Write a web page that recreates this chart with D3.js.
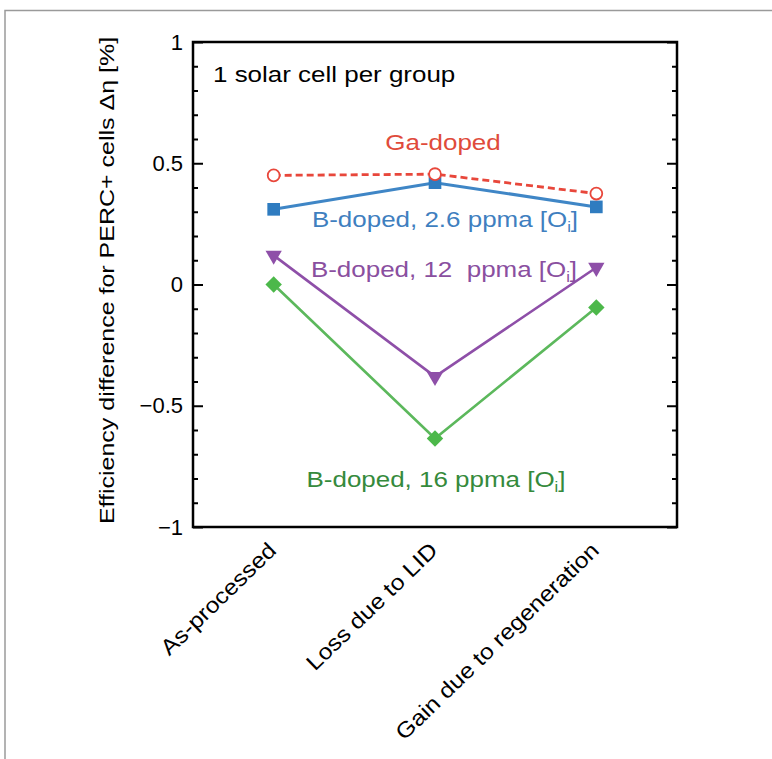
<!DOCTYPE html>
<html>
<head>
<meta charset="utf-8">
<script src="https://cdn.jsdelivr.net/npm/d3@7"></script>
<style>
  body { margin: 0; background: #fff; }
  svg { font-family: "Liberation Sans", Arial, sans-serif; }
</style>
</head>
<body>
<svg id="chart"></svg>
<script>
// efficiency difference per process step, one cell per group
var categories = ["As-processed", "Loss due to LID", "Gain due to regeneration"]
var gaDoped = [0.45, 0.455, 0.375]
var bDoped26 = [0.31, 0.42, 0.32]
var bDoped12 = [0.12, -0.38, 0.07]
var bDoped16 = [0, -0.635, -0.095]
var majorTicks = [-1, -0.5, 0, 0.5, 1]
var minorTicks = [-0.9, -0.8, -0.7, -0.6, -0.4, -0.3, -0.2, -0.1, 0.1, 0.2, 0.3, 0.4, 0.6, 0.7, 0.8, 0.9]

var dimensions = {
    width: 772,
    height: 759,
    margin: { top: 42, bottom: 232, left: 193, right: 95 }
}

var svg = d3.select('#chart')
    .attr("width", dimensions.width)
    .attr("height", dimensions.height)

// grey frame of the cropped figure
svg.append("path")
    .attr("d", "M5,759 V10.5 H772")
    .attr("fill", "none")
    .attr("stroke", "#9a9a9a")
    .attr("stroke-width", 1.5)

var x0 = dimensions.margin.left
var x1 = dimensions.width - dimensions.margin.right
var y0 = dimensions.height - dimensions.margin.bottom
var y1 = dimensions.margin.top

var xScale = d3.scalePoint()
    .domain(categories)
    .range([x0, x1])
    .padding(0.5)

var yScale = d3.scaleLinear()
    .domain([-1, 1])
    .range([y0, y1])

// axes: ticks point inward on both sides
function tickAxis(axis, values, size) {
    return axis.scale(yScale).tickValues(values).tickSize(-size).tickSizeOuter(0)
}
var left = svg.append("g").attr("transform", `translate(${x0},0)`)
left.call(tickAxis(d3.axisLeft(), minorTicks, 5).tickFormat(""))
left.append("g").call(tickAxis(d3.axisLeft(), majorTicks, 10).tickPadding(10).tickFormat(d => d3.format("")(d).replace("-", "\u2212")))
var right = svg.append("g").attr("transform", `translate(${x1},0)`)
right.call(tickAxis(d3.axisRight(), minorTicks, 5).tickFormat(""))
right.append("g").call(tickAxis(d3.axisRight(), majorTicks, 10).tickFormat(""))

svg.selectAll(".domain").remove()
svg.selectAll(".tick line").attr("stroke", "#000").attr("stroke-width", 2)
svg.selectAll(".tick text")
    .attr("fill", "#000")
    .style("font-size", "22px")
    .style("font-family", "'Liberation Sans', Arial, sans-serif")

svg.append("rect")
    .attr("x", x0).attr("y", y1)
    .attr("width", x1 - x0).attr("height", y0 - y1)
    .attr("fill", "none")
    .attr("stroke", "#000")
    .attr("stroke-width", 2.5)

// category labels, rotated
svg.append("g").selectAll("text")
    .data(categories)
    .enter()
    .append("text")
    .attr("transform", d => `translate(${xScale(d) + 4},552) rotate(-44) scale(1.12,1)`)
    .attr("text-anchor", "end")
    .style("font-size", "22px")
    .text(d => d)

// y title
svg.append("text")
    .attr("transform", `translate(114,${(y0 + y1) / 2 - 4}) rotate(-90) scale(1.19,1)`)
    .attr("text-anchor", "middle")
    .style("font-size", "21px")
    .text("Efficiency difference for PERC+ cells \u0394\u03b7 [%]")

var line = d3.line()
    .x((d, i) => xScale(categories[i]))
    .y(d => yScale(d))

var series = [
    { name: "B16", values: bDoped16, line: "#5cb85c", fill: "#4cb84a", width: 2.6, dash: null, symbol: d3.symbolSquare, size: 135, rot: 45, open: false },
    { name: "B12", values: bDoped12, line: "#8e4fa8", fill: "#8e4fa8", width: 2.6, dash: null, symbol: d3.symbolTriangle, size: 115, rot: 180, open: false },
    { name: "B26", values: bDoped26, line: "#3f86c6", fill: "#2f7cc0", width: 3, dash: null, symbol: d3.symbolSquare, size: 160, rot: 0, open: false },
    { name: "Ga", values: gaDoped, line: "#e8473b", fill: "#e8473b", width: 2.8, dash: "7,4", symbol: d3.symbolCircle, size: 110, rot: 0, open: true }
]

series.forEach(function (s) {
    svg.append("path")
        .datum(s.values)
        .attr("d", line)
        .attr("fill", "none")
        .attr("stroke", s.line)
        .attr("stroke-width", s.width)
        .attr("stroke-dasharray", s.dash)

    svg.append("g").selectAll("path")
        .data(s.values)
        .enter()
        .append("path")
        .attr("d", d3.symbol().type(s.symbol).size(s.size))
        .attr("transform", (d, i) => `translate(${xScale(categories[i])},${yScale(d)}) rotate(${s.rot})`)
        .attr("fill", s.open ? "#fff" : s.fill)
        .attr("stroke", s.open ? s.fill : "none")
        .attr("stroke-width", 1.8)
})

// annotations
function note(x, y, color, main, sub, tail) {
    var t = svg.append("text")
        .attr("transform", `translate(${x},${y}) scale(1.18,1)`)
        .attr("text-anchor", "middle")
        .attr("fill", color)
        .style("font-size", "22px")
        .style("white-space", "pre")
    t.append("tspan").text(main)
    if (sub) {
        t.append("tspan").attr("dy", 5).style("font-size", "14px").text(sub)
        t.append("tspan").attr("dy", -5).text(tail)
    }
    return t
}

svg.append("text")
    .attr("transform", `translate(213,82) scale(1.18,1)`)
    .style("font-size", "22px")
    .text("1 solar cell per group")

note(443, 150, "#e04b3b", "Ga-doped")
note(445, 227, "#3f7fbf", "B-doped, 2.6 ppma [O", "i", "]")
note(444, 277, "#8a4f9f", "B-doped, 12  ppma [O", "i", "]")
note(436, 487, "#358a3c", "B-doped, 16 ppma [O", "i", "]")
</script>
</body>
</html>
